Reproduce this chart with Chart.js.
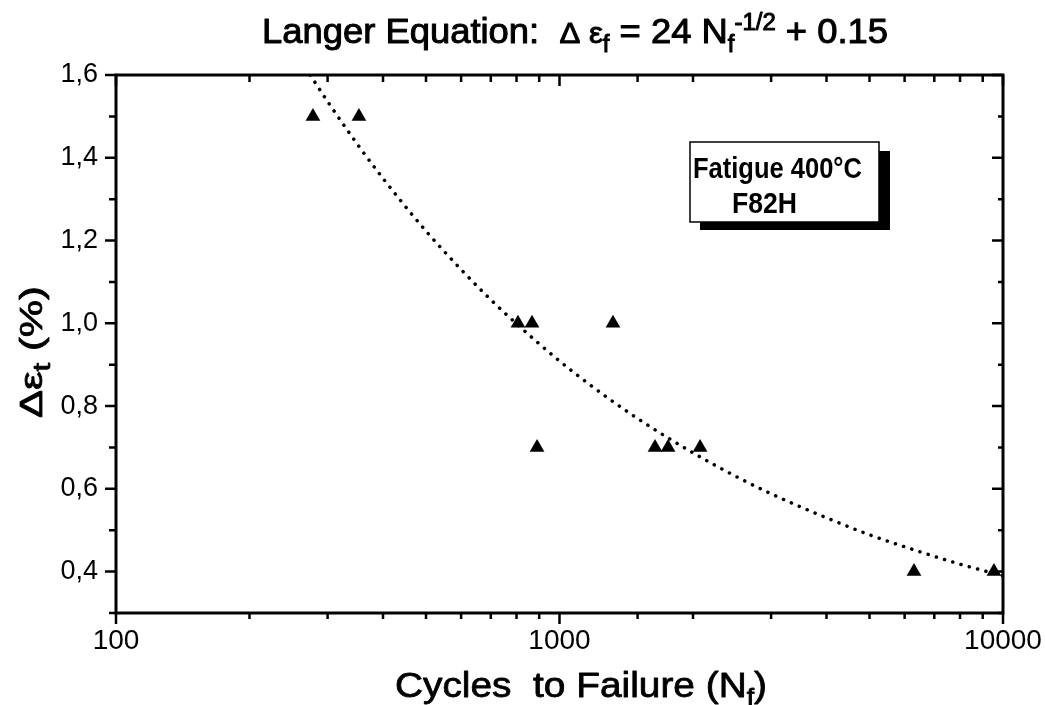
<!DOCTYPE html>
<html>
<head>
<meta charset="utf-8">
<script src="https://cdn.jsdelivr.net/npm/chart.js@4.4.0/dist/chart.umd.min.js"></script>
<style>
  body { margin: 0; background: #fff; }
  canvas { display: block; }
</style>
</head>
<body>
<canvas id="fatigueChart" width="1045" height="705"></canvas>
<script>
// measured points (cycles to failure vs total strain range, %)
const cyclesToFailure = [278, 353, 806, 867, 1320, 890, 1642, 1757, 2075, 6300, 9540];
const strainRange = [1.5, 1.5, 1.0, 1.0, 1.0, 0.7, 0.7, 0.7, 0.7, 0.4, 0.4];

// dotted Langer fit
const fitCycles = [274, 300, 350, 400, 500, 600, 700, 800, 1000, 1200, 1500, 2000, 2500, 3000, 4000, 5000, 6000, 8000, 10000];
const fitStrain = [1.60, 1.536, 1.433, 1.35, 1.223, 1.13, 1.057, 0.999, 0.909, 0.843, 0.77, 0.687, 0.63, 0.588, 0.53, 0.489, 0.46, 0.418, 0.39];

const xMajorTicks = [100, 1000, 10000];
const yTickLabels = ['0,4', '0,6', '0,8', '1,0', '1,2', '1,4', '1,6'];

const FONT = '"Liberation Sans", Arial, sans-serif';
Chart.defaults.font.family = FONT;
Chart.defaults.color = '#000';

const isMajorX = v => xMajorTicks.includes(Math.round(v));
const isMajorY = v => Math.round(v * 10) % 2 === 0;

// text with sub/superscripts, squeezed to a target width
function drawRuns(ctx, runs, x, y, targetW, weight) {
    let w = 0;
    runs.forEach(r => {
        ctx.font = r.font;
        r.w = ctx.measureText(r.text).width;
        w += r.w;
    });
    ctx.save();
    ctx.translate(x, y);
    ctx.scale(targetW ? targetW / w : 1, 1);
    ctx.lineWidth = weight || 0;
    ctx.lineJoin = 'round';
    let cx = 0;
    runs.forEach(r => {
        ctx.font = r.font;
        ctx.fillText(r.text, cx, r.dy || 0);
        if (weight) ctx.strokeText(r.text, cx, r.dy || 0);
        cx += r.w;
    });
    ctx.restore();
}

const decorPlugin = {
    id: 'decor',
    afterDraw(chart) {
        const { ctx, chartArea: a, scales } = chart;
        ctx.save();
        ctx.fillStyle = '#000';
        ctx.strokeStyle = '#000';

        // ticks on all four sides
        ctx.lineWidth = 2.5;
        ctx.beginPath();
        scales.x.ticks.forEach(t => {
            const px = scales.x.getPixelForValue(t.value);
            const big = isMajorX(t.value);
            ctx.moveTo(px, a.bottom);
            ctx.lineTo(px, a.bottom + (big ? 11 : 6));
            ctx.moveTo(px, a.top);
            ctx.lineTo(px, a.top + (big ? 11 : 7));
        });
        scales.y.ticks.forEach(t => {
            const py = scales.y.getPixelForValue(t.value);
            const big = isMajorY(t.value);
            ctx.moveTo(a.left, py);
            ctx.lineTo(a.left - (big ? 11 : 7), py);
            ctx.moveTo(a.right, py);
            ctx.lineTo(a.right - (big ? 11 : 5), py);
        });
        ctx.stroke();

        ctx.lineWidth = 3;
        ctx.strokeRect(a.left, a.top, a.right - a.left, a.bottom - a.top);

        // title
        const big = '35px ' + FONT, mid = '30px ' + FONT, small = '23px ' + FONT;
        drawRuns(ctx, [
            { text: 'Langer Equation:  ', font: big },
            { text: 'Δ ε', font: mid },
            { text: 'f', font: small, dy: 9 },
            { text: ' = 24 N', font: big },
            { text: 'f', font: small, dy: 9 },
            { text: '-1/2', font: small, dy: -13 },
            { text: ' + 0.15', font: big }
        ], 262, 43, 626, 1);

        // x axis title
        drawRuns(ctx, [
            { text: 'Cycles  to Failure (N', font: '35px ' + FONT },
            { text: 'f', font: '24px ' + FONT, dy: 8 },
            { text: ')', font: '35px ' + FONT }
        ], 395, 697, 372, 0.8);

        // y axis title
        ctx.save();
        ctx.translate(42, 418);
        ctx.rotate(-Math.PI / 2);
        drawRuns(ctx, [
            { text: 'Δε', font: '32px ' + FONT },
            { text: 't', font: '24px ' + FONT, dy: 8 },
            { text: ' (%)', font: '32px ' + FONT }
        ], 0, 0, 132, 0.8);
        ctx.restore();

        // annotation box with shadow
        ctx.fillRect(700, 151, 190, 79);
        ctx.fillStyle = '#fff';
        ctx.fillRect(690, 142, 189, 80);
        ctx.lineWidth = 1.5;
        ctx.strokeRect(690, 142, 189, 80);
        ctx.fillStyle = '#000';
        drawRuns(ctx, [{ text: 'Fatigue 400°C', font: 'bold 29px ' + FONT }], 693, 178, 169);
        drawRuns(ctx, [{ text: 'F82H', font: 'bold 29px ' + FONT }], 732, 213, 65);

        ctx.restore();
    }
};

const ctx = document.getElementById('fatigueChart').getContext('2d');

const fatigueChart = new Chart(ctx, {
    type: 'scatter',
    data: {
        datasets: [{
            label: 'F82H 400°C',
            data: cyclesToFailure.map((n, i) => ({ x: n, y: strainRange[i] })),
            pointStyle: 'triangle',
            pointRadius: 8.5,
            backgroundColor: '#000',
            borderWidth: 0,
            order: 0,
        }, {
            label: 'Langer fit',
            type: 'line',
            data: fitCycles.map((n, i) => ({ x: n, y: fitStrain[i] })),
            borderColor: '#000',
            borderWidth: 3.5,
            borderDash: [0.1, 8.5],
            borderCapStyle: 'round',
            cubicInterpolationMode: 'monotone',
            pointRadius: 0,
            fill: false,
            order: 1,
        }],
    },
    options: {
        responsive: false,
        animation: false,
        layout: {
            padding: { top: 75, right: 42, bottom: 0, left: 0 },
        },
        plugins: {
            legend: { display: false },
            tooltip: { enabled: false },
        },
        scales: {
            x: {
                type: 'logarithmic',
                position: 'bottom',
                min: 100,
                max: 10000,
                grid: { display: false, drawTicks: false },
                border: { display: false },
                ticks: {
                    autoSkip: false,
                    maxRotation: 0,
                    padding: 11,
                    font: { size: 28 },
                    callback: v => (isMajorX(v) ? String(Math.round(v)) : ''),
                },
                afterFit: s => { s.height = 92; s.paddingLeft = 0; s.paddingRight = 0; },
            },
            y: {
                min: 0.3,
                max: 1.6,
                grid: { display: false, drawTicks: false },
                border: { display: false },
                ticks: {
                    stepSize: 0.1,
                    autoSkip: false,
                    padding: 18,
                    font: { size: 27 },
                    callback: v => {
                        const k = Math.round(v * 10);
                        return k % 2 === 0 && k >= 4 ? yTickLabels[(k - 4) / 2] : '';
                    },
                },
                afterFit: s => { s.width = 116; },
            },
        },
    },
    plugins: [decorPlugin],
});
</script>
</body>
</html>
